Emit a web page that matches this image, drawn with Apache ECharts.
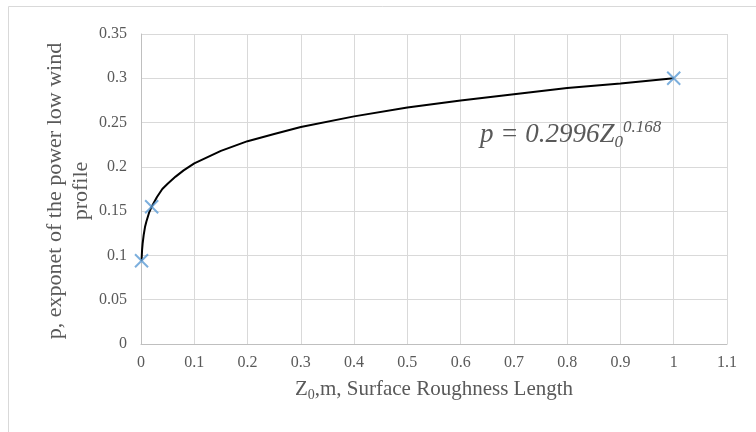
<!DOCTYPE html>
<html>
<head>
<meta charset="utf-8">
<style>html,body{margin:0;padding:0;background:#fff;}#c{width:756px;height:432px;}</style>
<script src="https://cdn.jsdelivr.net/npm/echarts@6/dist/echarts.min.js"></script>
</head>
<body>
<div id="c"></div>
<script>
// Measured points (Z0, p)
const measuredZ = [0.001, 0.02, 1.0];
const measuredP = [0.094, 0.155, 0.300];
// Trend line
const trendZ = [0.001, 0.002, 0.003, 0.005, 0.0075, 0.01, 0.015, 0.02, 0.03, 0.04, 0.05, 0.065, 0.08, 0.1, 0.125, 0.15, 0.2, 0.25, 0.3, 0.4, 0.5, 0.6, 0.7, 0.8, 0.9, 1.0];
const trendP = [0.094, 0.106, 0.113, 0.123, 0.132, 0.138, 0.148, 0.155, 0.166, 0.175, 0.181, 0.189, 0.196, 0.204, 0.211, 0.218, 0.229, 0.237, 0.245, 0.257, 0.267, 0.275, 0.282, 0.289, 0.294, 0.300];
const xTicks = ['0','0.1','0.2','0.3','0.4','0.5','0.6','0.7','0.8','0.9','1','1.1'];
const yTicks = ['0','0.05','0.1','0.15','0.2','0.25','0.3','0.35'];

const serif = '"Liberation Serif", "DejaVu Serif", serif';
const chart = echarts.init(document.getElementById('c'), null, {renderer: 'canvas'});
chart.setOption({
  animation: false,
  backgroundColor: '#fff',
  grid: {left: 141, right: 29, top: 34, bottom: 88},
  xAxis: {
    type: 'value', min: 0, max: 1.1, interval: 0.1,
    axisLine: {show: true, lineStyle: {color: '#bfbfbf', width: 1}},
    axisTick: {show: false},
    splitLine: {show: true, lineStyle: {color: '#d9d9d9', width: 1}},
    axisLabel: {
      color: '#595959', fontFamily: serif, fontSize: 16, margin: 11,
      formatter: function (v) { const i = Math.round(v * 10); return xTicks[i]; }
    }
  },
  yAxis: {
    type: 'value', min: 0, max: 0.35, interval: 0.05,
    axisLine: {show: true, lineStyle: {color: '#bfbfbf', width: 1}},
    axisTick: {show: false},
    splitLine: {show: true, lineStyle: {color: '#d9d9d9', width: 1}},
    axisLabel: {
      color: '#595959', fontFamily: serif, fontSize: 16, margin: 14,
      formatter: function (v) { const i = Math.round(v * 20); return yTicks[i]; }
    }
  },
  series: [
    {
      type: 'line', smooth: false, showSymbol: false, silent: true,
      data: trendZ.map((z, i) => [z, trendP[i]]),
      lineStyle: {color: '#000', width: 2},
      z: 2
    },
    {
      type: 'scatter',
      symbol: 'path://M0,0L10,10M10,0L0,10',
      symbolSize: 13,
      data: measuredZ.map((z, i) => [z, measuredP[i]]),
      itemStyle: {color: 'rgba(0,0,0,0)', borderColor: '#5b9bd5', borderWidth: 2},
      z: 3
    }
  ],
  graphic: [
    {
      type: 'rect', shape: {x: 8.5, y: 6.5, width: 800, height: 500},
      style: {fill: 'none', stroke: '#d9d9d9', lineWidth: 1}, silent: true, z: -10
    },
    {
      type: 'text', rotation: Math.PI / 2, z: 10,
      position: [68, 191],
      style: {
        text: 'p, exponet of the power low wind\nprofile',
        font: '22px ' + serif, fill: '#595959', align: 'center', verticalAlign: 'middle', lineHeight: 26,
        x: 0, y: 0
      }
    },
    {
      type: 'text', position: [434, 389], z: 10,
      style: {
        text: '{a|Z}{s|0}{a|,m, Surface Roughness Length}',
        align: 'center', verticalAlign: 'middle',
        rich: {
          a: {font: '21px ' + serif, fill: '#595959', lineHeight: 26, verticalAlign: 'middle'},
          s: {font: '14px ' + serif, fill: '#595959', lineHeight: 14, verticalAlign: 'bottom'}
        }
      }
    },
    {
      type: 'text', position: [480, 135], z: 10,
      style: {
        text: '{a|p = 0.2996Z}{s|0}{p|0.168}',
        align: 'left', verticalAlign: 'middle',
        rich: {
          a: {font: 'italic 27px ' + serif, fill: '#595959', lineHeight: 32, verticalAlign: 'middle'},
          s: {font: 'italic 17px ' + serif, fill: '#595959', lineHeight: 14, verticalAlign: 'bottom'},
          p: {font: 'italic 17px ' + serif, fill: '#595959', lineHeight: 24, verticalAlign: 'top'}
        }
      }
    }
  ]
});
</script>
</body>
</html>
